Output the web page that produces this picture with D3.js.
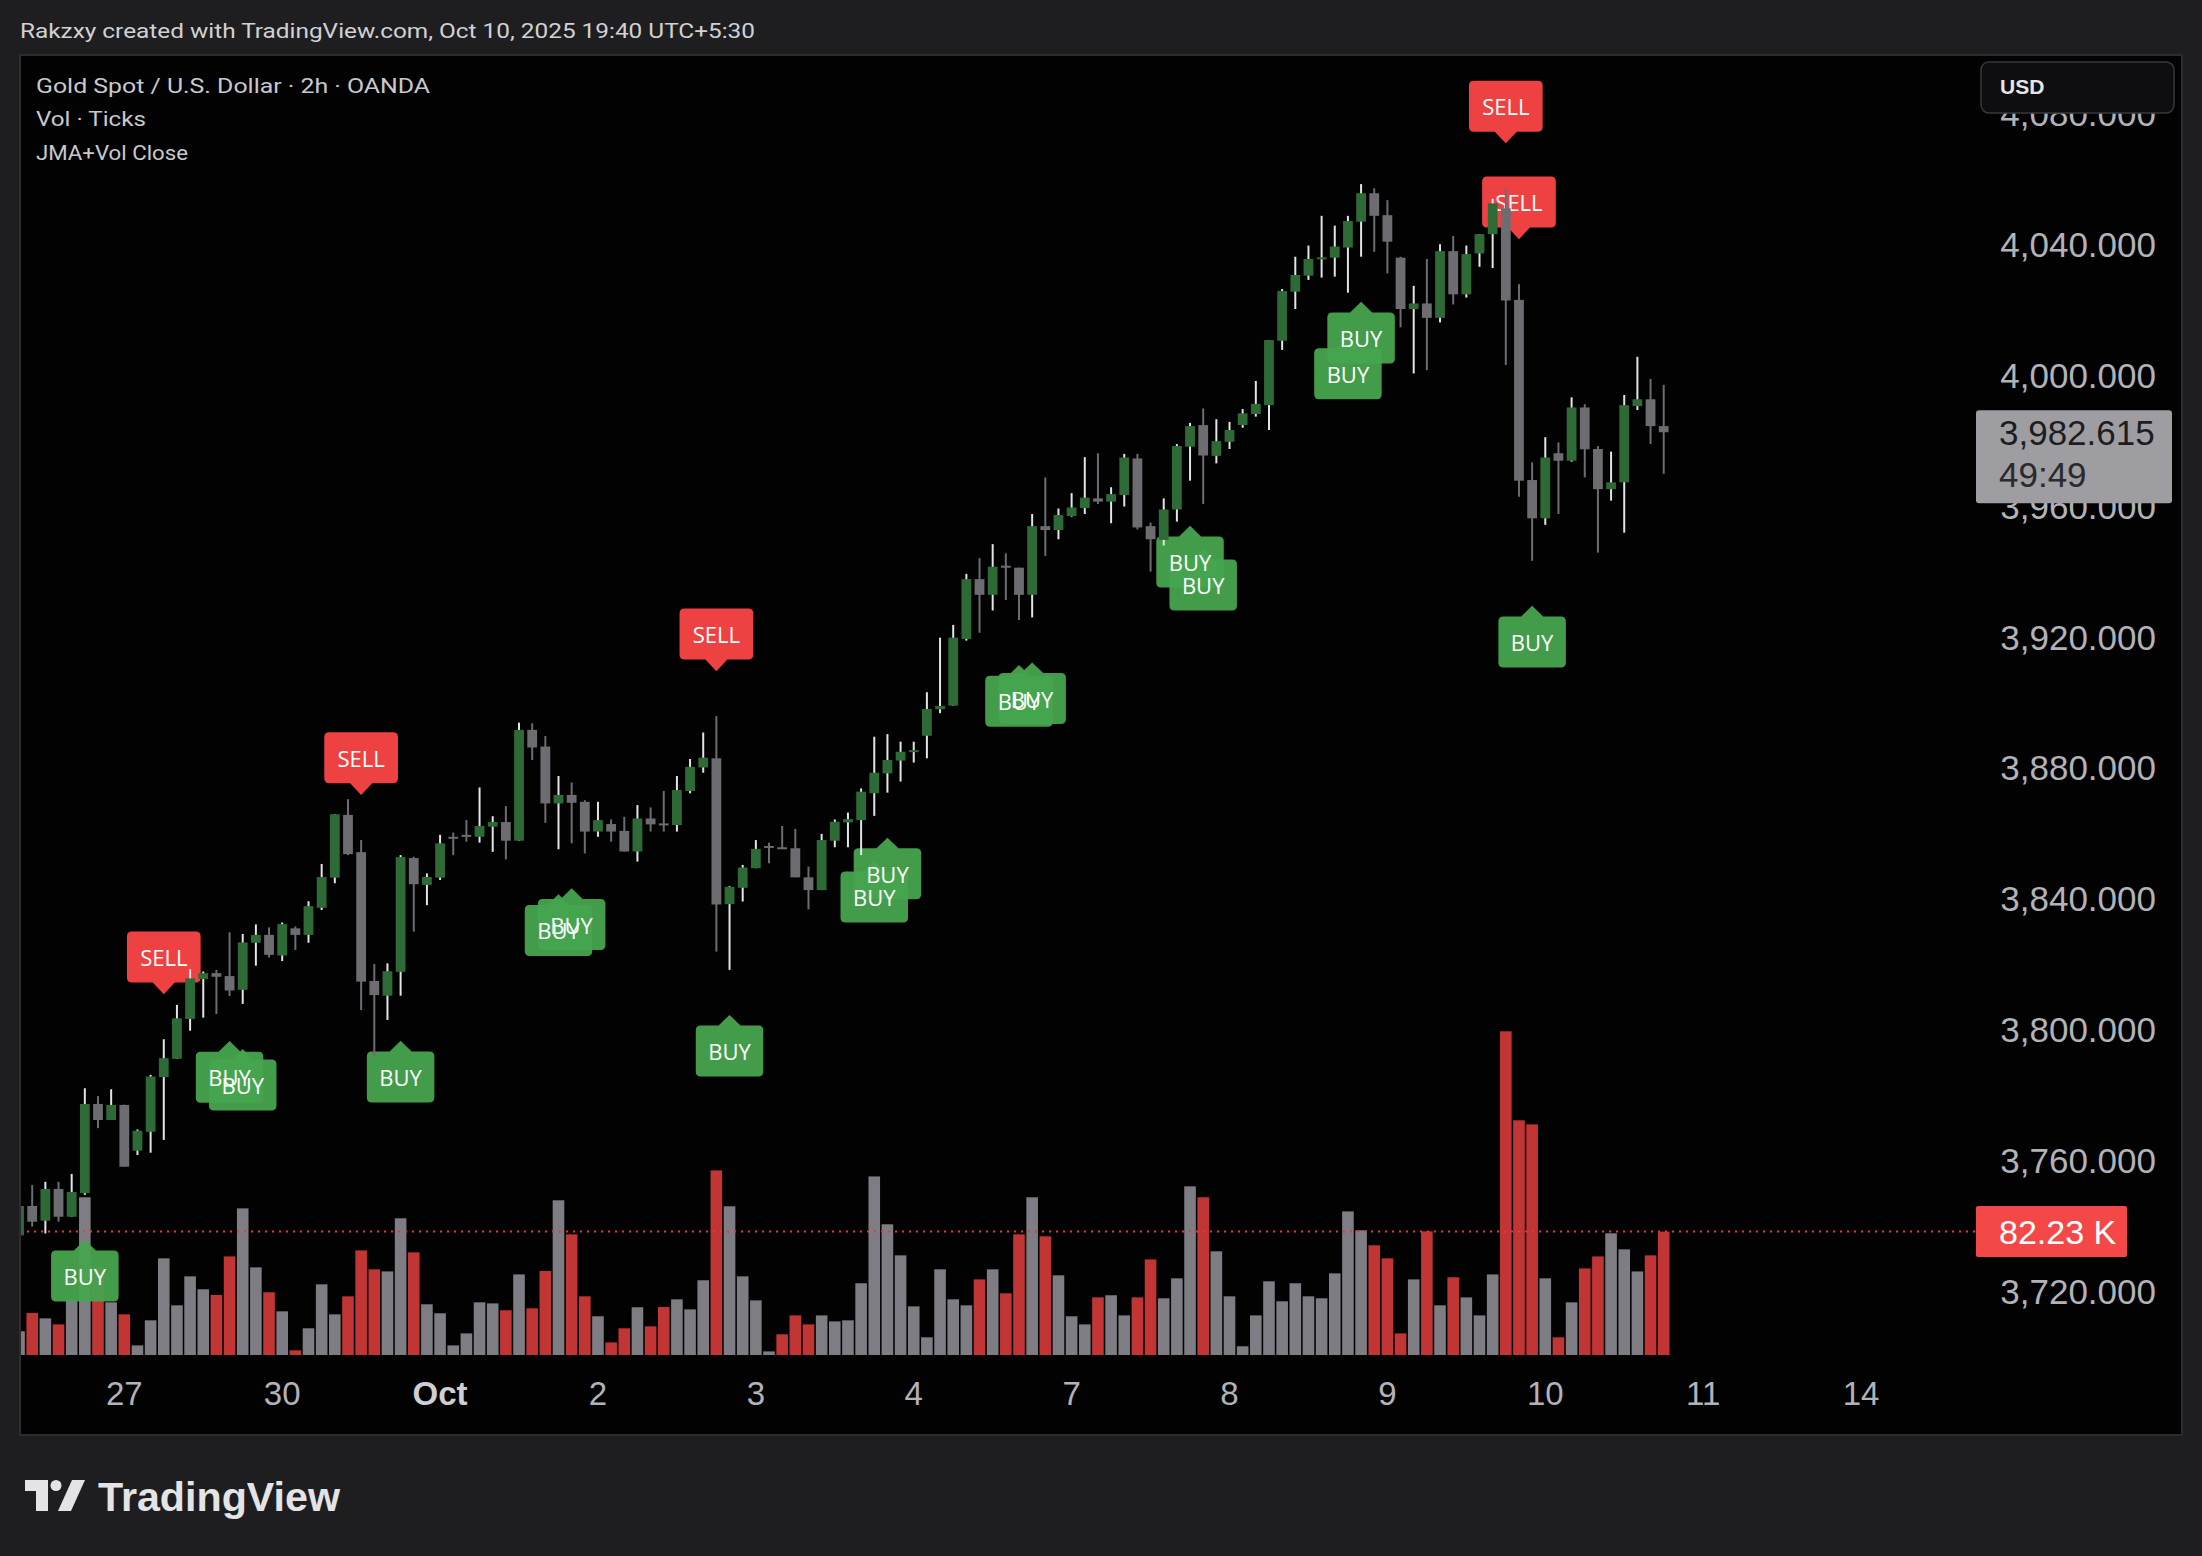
<!DOCTYPE html>
<html>
<head>
<meta charset="utf-8">
<script src="https://cdn.jsdelivr.net/npm/d3@7"></script>
<style>
  html, body { margin: 0; padding: 0; background: #1e1e21; }
  svg { display: block; }
</style>
</head>
<body>
<svg id="chart" width="2202" height="1556"></svg>
<script>
// 2h candles, Gold Spot / USD (OANDA), bar 0 is cut at the left edge
const opens = [3737.0,3746.0,3741.5,3751.2,3742.7,3749.9,3777.2,3772.3,3776.9,3762.9,
  3768.7,3785.4,3791.0,3803.2,3815.4,3817.2,3816.3,3812.1,3826.5,3828.9,
  3822.6,3830.9,3828.9,3837.2,3846.4,3865.6,3854.2,3814.8,3810.3,3817.6,
  3852.4,3844.2,3846.4,3858.9,3859.5,3858.9,3862.0,3863.4,3857.7,3891.6,
  3886.5,3869.1,3871.7,3869.6,3860.5,3862.8,3860.7,3854.4,3864.5,3863.0,
  3862.5,3872.9,3880.1,3882.9,3838.3,3843.3,3849.3,3856.1,3855.7,3855.4,
  3846.5,3842.6,3857.7,3863.3,3864.0,3872.2,3878.3,3882.2,3885.0,3889.8,
  3897.9,3899.0,3919.4,3937.7,3932.9,3941.8,3941.2,3932.9,3953.9,3952.7,
  3957.0,3959.4,3962.4,3961.4,3963.4,3974.6,3953.9,3949.7,3959.0,3978.2,
  3984.8,3975.4,3979.7,3984.8,3988.2,3990.9,4010.6,4025.6,4030.5,4035.5,
  4036.0,4039.1,4047.0,4055.7,4049.0,4036.0,4020.3,4022.0,4017.6,4038.0,
  4024.8,4037.3,4043.2,4051.1,4023.1,3968.0,3956.3,3976.2,3973.9,3990.2,
  3977.5,3965.2,3967.3,3990.6,3992.7,3984.5];
const highs = [3748.0,3752.4,3753.4,3753.4,3755.8,3782.0,3779.6,3781.7,3777.0,3769.4,
  3786.1,3797.0,3807.5,3818.4,3817.7,3818.2,3829.7,3829.2,3832.1,3831.2,
  3832.7,3831.5,3839.2,3850.6,3865.8,3870.4,3857.9,3820.0,3820.2,3853.3,
  3852.8,3847.7,3859.5,3860.2,3864.0,3874.0,3865.2,3868.3,3893.8,3893.6,
  3889.7,3877.5,3875.5,3870.1,3869.6,3864.2,3865.0,3868.6,3867.9,3872.9,
  3877.5,3882.7,3890.8,3895.8,3843.8,3850.3,3857.9,3857.1,3862.2,3861.3,
  3849.8,3859.8,3864.2,3866.3,3873.7,3889.5,3890.3,3888.0,3888.0,3903.1,
  3919.8,3923.7,3939.3,3944.1,3948.4,3945.6,3941.2,3957.6,3968.8,3959.3,
  3964.0,3975.0,3976.2,3965.8,3976.0,3976.0,3955.0,3962.4,3979.0,3985.5,
  3989.9,3986.6,3985.8,3989.7,3998.3,4010.8,4026.4,4036.3,4039.7,4048.8,
  4045.8,4048.8,4058.5,4057.2,4053.6,4036.3,4027.4,4035.6,4040.1,4042.6,
  4039.7,4043.2,4054.0,4057.2,4027.9,3973.4,3981.1,3979.5,3993.3,3991.2,
  3978.4,3976.7,3994.0,4005.7,3998.9,3997.1];
const lows = [3735.0,3739.7,3737.6,3741.2,3742.7,3749.4,3769.8,3772.3,3758.0,3761.6,
  3762.3,3766.2,3791.0,3799.6,3803.6,3804.7,3810.2,3807.8,3819.5,3822.0,
  3820.9,3824.3,3826.5,3836.5,3844.7,3853.3,3805.9,3791.7,3802.9,3810.3,
  3829.9,3838.0,3845.7,3853.3,3857.4,3857.1,3854.3,3852.0,3857.7,3882.4,
  3863.2,3855.1,3856.9,3853.8,3858.9,3857.4,3854.4,3851.3,3860.5,3860.5,
  3860.5,3872.2,3878.5,3823.8,3818.2,3839.1,3849.3,3850.8,3855.3,3846.5,
  3836.7,3842.6,3855.7,3855.7,3853.3,3865.3,3872.4,3875.8,3881.6,3882.9,
  3896.7,3899.0,3918.9,3921.3,3928.1,3931.3,3925.2,3926.0,3944.8,3949.9,
  3956.8,3957.6,3960.7,3954.8,3959.9,3952.9,3940.0,3948.0,3955.3,3967.8,
  3960.7,3973.1,3977.5,3984.0,3987.4,3983.3,4007.8,4020.3,4029.2,4029.9,
  4030.2,4025.3,4036.3,4037.8,4031.2,4014.7,4000.6,4001.6,4016.2,4021.7,
  4023.8,4033.2,4032.8,4003.2,3962.9,3943.3,3954.3,3957.6,3973.6,3968.8,
  3945.8,3961.7,3951.9,3989.4,3979.0,3969.9];
const closes = [3746.0,3741.2,3751.2,3742.7,3750.3,3777.2,3772.3,3776.9,3758.0,3769.0,
  3785.6,3791.2,3803.4,3815.6,3817.2,3816.1,3811.9,3826.6,3828.9,3822.8,
  3832.2,3828.9,3837.7,3846.6,3865.8,3853.6,3814.6,3810.5,3817.8,3852.7,
  3844.4,3846.6,3856.9,3858.5,3859.0,3862.2,3863.4,3857.7,3891.6,3886.2,
  3869.1,3871.7,3869.3,3860.5,3864.0,3860.5,3854.4,3864.5,3862.7,3862.7,
  3873.2,3880.3,3883.1,3838.2,3843.6,3849.5,3855.2,3855.7,3855.3,3846.5,
  3842.6,3857.9,3863.5,3864.3,3872.7,3878.5,3882.4,3884.9,3885.4,3898.0,
  3898.9,3919.8,3937.7,3932.9,3941.5,3941.2,3932.9,3953.9,3952.7,3957.3,
  3959.6,3962.6,3961.4,3963.7,3974.9,3953.5,3949.9,3959.0,3978.4,3984.5,
  3975.5,3979.9,3983.3,3988.4,3991.3,4010.8,4025.8,4030.7,4035.6,4036.1,
  4039.4,4047.2,4055.7,4048.8,4040.9,4020.3,4022.0,4017.6,4038.0,4024.8,
  4037.1,4043.2,4052.6,4022.9,3967.8,3956.3,3974.9,3973.9,3990.2,3977.4,
  3965.2,3967.3,3990.9,3992.7,3984.5,3982.615];

// volume in thousands of ticks, colour code r = red, g = gray
const volumes = [15.8,28.0,24.4,20.4,37.1,105.1,58.6,35.1,27.1,6.4,
  23.1,64.4,33.1,52.4,43.8,40.0,65.7,97.7,58.4,41.8,
  29.1,3.1,17.8,47.1,27.1,39.1,69.7,57.1,55.7,91.1,
  68.4,33.8,27.8,6.4,14.4,35.1,34.4,29.8,53.7,31.1,
  56.0,103.1,80.4,39.1,25.8,8.4,17.8,31.8,19.1,32.0,
  37.1,30.4,49.8,123.0,99.1,52.4,36.4,2.4,13.8,26.4,
  20.4,26.4,22.4,23.1,47.8,119.0,87.1,66.4,32.4,11.8,
  57.1,37.1,33.1,50.4,57.1,41.1,80.4,105.1,79.1,53.1,
  25.8,20.4,38.4,39.8,26.4,38.4,63.7,37.8,51.1,112.4,
  105.1,69.1,39.1,5.8,26.4,49.1,35.8,47.8,39.1,37.8,
  54.4,95.7,83.1,73.1,64.4,14.4,50.4,82.4,33.1,51.8,
  38.4,26.4,53.7,215.7,156.4,153.7,51.1,11.8,35.1,57.7,
  65.7,81.1,70.4,55.7,66.4,82.23];
const volColors = ("grgrggrgrg" + "gggggrrggr" + "grgggrrrgg" + "rggggggrgr" +
  "rgrrgrrgrr" + "gggrggggrr" + "rggggggggg" + "gggrgrrgrg" + "ggrggrrggg" +
  "rggggggggg" + "gggrrrgrgr" + "gggrrrgrgr" + "rgggrr").split("");

// signals of the JMA+Vol script, by bar index
const sellBars = [11, 26, 53, 113, 114];
const buyBars = [5, 16, 17, 29, 41, 42, 54, 65, 66, 76, 77, 89, 90, 101, 102, 115];

// axis labels
const priceTicks = [3720, 3760, 3800, 3840, 3880, 3920, 3960, 4000, 4040, 4080];
const timeLabels = ["27", "30", "Oct", "2", "3", "4", "7", "8", "9", "10", "11", "14"];
const timeBars = [8, 20, 32, 44, 56, 68, 80, 92, 104, 116, 128, 140];
const lastPrice = 3982.615;
const lastVolume = 82.23;
const countdown = "49:49";

const svg = d3.select("#chart");
const AXIS_FONT = "'Liberation Sans', Arial, sans-serif";

const x = d3.scaleLinear().domain([0, 125]).range([19.05, 1663.7]);
const y = d3.scaleLinear().domain([3720, 4040]).range([1291, 244.6]);
const vy = d3.scaleLinear().domain([0, lastVolume]).range([1355, 1231.6]);

// page + chart panel
svg.append("rect").attr("width", 2202).attr("height", 1556).attr("fill", "#1e1e21");
svg.append("rect").attr("x", 20).attr("y", 55).attr("width", 2162).attr("height", 1380)
  .attr("fill", "#020203").attr("stroke", "#2c2c30").attr("stroke-width", 2);

svg.append("text").attr("x", 20).attr("y", 37.5)
  .attr("font-family", "Roboto, sans-serif").attr("font-size", 21).attr("fill", "#d1d1d4")
  .attr("textLength", 735).attr("lengthAdjust", "spacingAndGlyphs")
  .text("Rakzxy created with TradingView.com, Oct 10, 2025 19:40 UTC+5:30");

svg.append("defs").append("clipPath").attr("id", "plot")
  .append("rect").attr("x", 21).attr("y", 56).attr("width", 1955).attr("height", 1306);

const plot = svg.append("g").attr("clip-path", "url(#plot)");

// volume
plot.append("g").selectAll("rect")
  .data(volumes)
  .join("rect")
  .attr("x", (d, i) => x(i) - 5.8)
  .attr("width", 11.6)
  .attr("y", d => vy(d))
  .attr("height", d => vy(0) - vy(d))
  .attr("fill", (d, i) => volColors[i] === "r" ? "#c23535" : "#7f7d84");

plot.append("line")
  .attr("x1", 20).attr("x2", 1976)
  .attr("y1", vy(lastVolume)).attr("y2", vy(lastVolume))
  .attr("stroke", "#e8363f").attr("stroke-width", 2).attr("stroke-dasharray", "2 5");

// signal labels
function labelShape(cx, tip, up, w, h, gap) {
  const r = 5;
  const top = up ? tip + gap : tip - gap - h;
  const bot = top + h, l = cx - w / 2, rr = cx + w / 2;
  if (up) {
    return `M${cx},${tip} L${cx + 11},${top} H${rr - r} Q${rr},${top} ${rr},${top + r} V${bot - r}` +
      ` Q${rr},${bot} ${rr - r},${bot} H${l + r} Q${l},${bot} ${l},${bot - r} V${top + r}` +
      ` Q${l},${top} ${l + r},${top} H${cx - 11} Z`;
  }
  return `M${cx},${tip} L${cx - 11},${bot} H${l + r} Q${l},${bot} ${l},${bot - r} V${top + r}` +
    ` Q${l},${top} ${l + r},${top} H${rr - r} Q${rr},${top} ${rr},${top + r} V${bot - r}` +
    ` Q${rr},${bot} ${rr - r},${bot} H${cx + 11} Z`;
}

const signals = [];
for (const b of sellBars) signals.push({ bar: b, up: false, tip: y(highs[b]) - 45 });
for (const b of buyBars) signals.push({ bar: b, up: true, tip: y(lows[b]) + 45 });
signals.sort((a, b) => a.tip - b.tip);

// boxes first, then all the texts on top (stacked labels show both words)
plot.append("g").selectAll("path").data(signals).join("path")
  .attr("d", d => d.up ? labelShape(x(d.bar), d.tip, true, 67.5, 51, 10.7)
                       : labelShape(x(d.bar), d.tip, false, 73.7, 51, 11.7))
  .attr("fill", d => d.up ? "#46a44e" : "#fb4646")
  .attr("fill-opacity", 0.95);
plot.append("g").selectAll("text").data(signals).join("text")
  .attr("x", d => x(d.bar))
  .attr("y", d => d.up ? d.tip + 10.7 + 25.5 : d.tip - 11.7 - 25.5)
  .attr("text-anchor", "middle").attr("dominant-baseline", "central")
  .attr("font-family", "'Open Sans', sans-serif").attr("font-size", 22)
  .attr("fill", "#ffffff")
  .text(d => d.up ? "BUY" : "SELL");

// candles
const candles = plot.append("g").selectAll("g")
  .data(opens.map((o, i) => ({ i, o, h: highs[i], l: lows[i], c: closes[i] })))
  .join("g");
candles.append("line")
  .attr("x1", d => x(d.i)).attr("x2", d => x(d.i))
  .attr("y1", d => y(d.h)).attr("y2", d => y(d.l))
  .attr("stroke", d => d.c >= d.o ? "#e4e4e6" : "#6d6c71").attr("stroke-width", 2);
candles.append("rect")
  .attr("x", d => x(d.i) - 4.9).attr("width", 9.8)
  .attr("y", d => y(Math.max(d.o, d.c)))
  .attr("height", d => Math.max(2, Math.abs(y(d.o) - y(d.c))))
  .attr("fill", d => d.c >= d.o ? "#2e6a35" : "#6d6c71");

// legend
const legend = [
  ["Gold Spot / U.S. Dollar · 2h · OANDA", 394],
  ["Vol · Ticks", 110],
  ["JMA+Vol Close", 152]
];
svg.append("g").selectAll("text").data(legend).join("text")
  .attr("x", 36).attr("y", (d, i) => 92.7 + i * 33.6)
  .attr("font-family", "Roboto, sans-serif").attr("font-size", 21).attr("fill", "#c9c9cd")
  .attr("textLength", d => d[1]).attr("lengthAdjust", "spacingAndGlyphs")
  .text(d => d[0]);

// price axis
const fmt = d3.format(",.3f");
svg.append("g").selectAll("text").data(priceTicks).join("text")
  .attr("x", 2156).attr("y", d => y(d)).attr("dy", "0.36em")
  .attr("text-anchor", "end")
  .attr("font-family", AXIS_FONT).attr("font-size", 35).attr("fill", "#b3b3b7")
  .text(d => fmt(d));

// USD button
svg.append("rect").attr("x", 1981).attr("y", 62).attr("width", 193).attr("height", 51).attr("rx", 8)
  .attr("fill", "#0e0e11").attr("stroke", "#38383c").attr("stroke-width", 1.5);
svg.append("text").attr("x", 2000).attr("y", 94)
  .attr("font-family", AXIS_FONT).attr("font-size", 21).attr("font-weight", "bold")
  .attr("fill", "#e6e6e8").text("USD");

// last price label
const ly = y(lastPrice);
svg.append("rect").attr("x", 1976).attr("y", ly - 22).attr("width", 196).attr("height", 93)
  .attr("rx", 3).attr("fill", "#9e9da2");
svg.append("text").attr("x", 1999).attr("y", ly + 13)
  .attr("font-family", AXIS_FONT).attr("font-size", 35).attr("fill", "#1d1d21")
  .text(fmt(lastPrice));
svg.append("text").attr("x", 1999).attr("y", ly + 55)
  .attr("font-family", AXIS_FONT).attr("font-size", 35).attr("fill", "#2a2a2e")
  .text(countdown);

// last volume label
const vly = vy(lastVolume);
svg.append("rect").attr("x", 1976).attr("y", vly - 25.5).attr("width", 151).attr("height", 51)
  .attr("rx", 2).attr("fill", "#f44848");
svg.append("text").attr("x", 1999).attr("y", vly).attr("dy", "0.36em")
  .attr("font-family", AXIS_FONT).attr("font-size", 34).attr("fill", "#ffffff")
  .text(d3.format(".2f")(lastVolume) + " K");

// time axis
svg.append("g").selectAll("text").data(timeLabels).join("text")
  .attr("x", (d, i) => x(timeBars[i])).attr("y", 1405)
  .attr("text-anchor", "middle")
  .attr("font-family", AXIS_FONT).attr("font-size", 33)
  .attr("font-weight", d => d === "Oct" ? "bold" : "normal")
  .attr("fill", d => d === "Oct" ? "#cfcfd3" : "#b3b3b7")
  .text(d => d);

// TradingView logo
const logo = svg.append("g").attr("fill", "#e4e4e6");
logo.append("path").attr("d", "M25,1480 H48 V1511 H36 V1491 H25 Z");
logo.append("circle").attr("cx", 56).attr("cy", 1485.5).attr("r", 5.5);
logo.append("path").attr("d", "M72,1480 H85 L71,1511 H58 Z");
logo.append("text").attr("x", 98).attr("y", 1511)
  .attr("font-family", AXIS_FONT).attr("font-size", 40).attr("font-weight", "bold")
  .attr("textLength", 242).attr("lengthAdjust", "spacingAndGlyphs")
  .text("TradingView");
</script>
</body>
</html>
